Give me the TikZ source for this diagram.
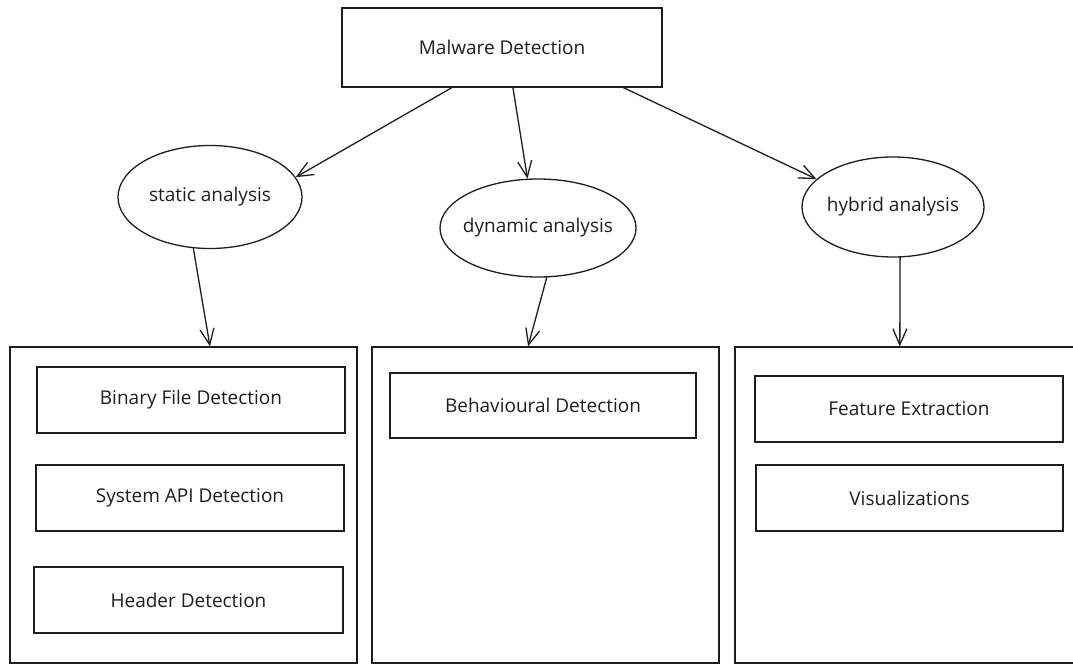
\documentclass[tikz,border=0pt]{standalone}
\usepackage{fontspec}
\setmainfont{Open Sans}
\usetikzlibrary{arrows.meta,shapes.geometric,calc}
\definecolor{ink}{RGB}{30,30,30}
\tikzset{
  sk/.style={draw=ink, line width=1.3pt},
  label font/.style={font=\fontsize{19}{22}\selectfont, text=ink},
  box/.style={sk, rectangle, inner sep=0pt, label font},
  oval/.style={sk, ellipse, inner xsep=-8pt, inner ysep=0pt, label font},
  conn/.style={draw=ink, line width=1.3pt, line cap=round,
    -{Straight Barb[length=16pt,width=14pt,line width=1.3pt]}},
}
\begin{document}
\begin{tikzpicture}[x=1pt,y=-1pt]
  \clip (0,0) rectangle (1073,664);
  \fill[white] (0,0) rectangle (1073,664);

  % root
  \node[box, minimum width=320pt, minimum height=79pt] (top) at (502,47.5) {Malware Detection};

  % analysis families
  \node[oval, minimum width=184pt, minimum height=103pt] (static) at (210,197) {static analysis};
  \node[oval, minimum width=196pt, minimum height=98pt] (dynamic) at (538,228) {dynamic analysis};
  \node[oval, minimum width=182pt, minimum height=100pt] (hybrid) at (893,207) {hybrid analysis};

  % containers
  \node[box, minimum width=347pt, minimum height=316pt] (staticbox) at (183.5,505) {};
  \node[box, minimum width=347pt, minimum height=316pt] (dynamicbox) at (545.5,505) {};
  \node[box, minimum width=350pt, minimum height=316pt] (hybridbox) at (910,505) {};

  % techniques
  \node[box, minimum width=308pt, minimum height=66pt] (binary) at (191,400) {Binary File Detection};
  \node[box, minimum width=308pt, minimum height=66pt] (sysapi) at (190,498) {System API Detection};
  \node[box, minimum width=309pt, minimum height=66pt] (header) at (188.5,600) {Header Detection};
  \node[box, minimum width=306pt, minimum height=65pt] (behav) at (543,405.5) {Behavioural Detection};
  \node[box, minimum width=308pt, minimum height=66pt] (feature) at (909,409) {Feature Extraction};
  \node[box, minimum width=307pt, minimum height=66pt] (visual) at (909.5,498) {Visualizations};

  % connectors
  \draw[conn] ($(top.south west)!0.344!(top.south east)$) -- (static.13);
  \draw[conn] ($(top.south west)!0.534!(top.south east)$) -- (dynamic.102);
  \draw[conn] ($(top.south west)!0.878!(top.south east)$) -- (hybrid.160);
  \draw[conn] (static.-108) -- ($(staticbox.north west)!0.576!(staticbox.north east)$);
  \draw[conn] (dynamic.-80) -- ($(dynamicbox.north west)!0.45!(dynamicbox.north east)$);
  \draw[conn] (hybrid.-82) -- ($(hybridbox.north west)!0.471!(hybridbox.north east)$);
\end{tikzpicture}
\end{document}
